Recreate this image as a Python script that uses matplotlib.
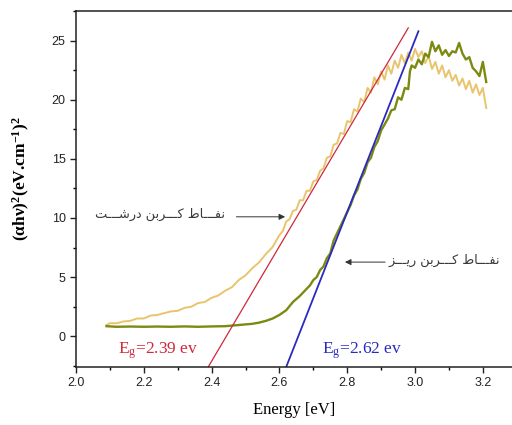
import numpy as np
import matplotlib
matplotlib.use("Agg")
import matplotlib.pyplot as plt
from matplotlib.ticker import MultipleLocator

# Tauc plot data, (alpha h nu)^2 vs photon energy
coarse_x = [2.09, 2.10, 2.12, 2.14, 2.16, 2.18, 2.20, 2.22, 2.24, 2.26, 2.28, 2.30, 2.32, 2.34,
            2.36, 2.38, 2.40, 2.42, 2.44, 2.46, 2.48, 2.50, 2.52, 2.54, 2.56, 2.58, 2.60, 2.61,
            2.62, 2.63, 2.64, 2.65, 2.66, 2.67, 2.68, 2.69, 2.70, 2.71, 2.72, 2.73, 2.74, 2.75,
            2.76, 2.77, 2.78, 2.79, 2.80, 2.81, 2.82, 2.83, 2.84, 2.85, 2.86, 2.87, 2.88, 2.89,
            2.90, 2.91, 2.92, 2.93, 2.94, 2.95, 2.96, 2.97, 2.98, 2.99, 3.00, 3.01, 3.02, 3.03,
            3.04, 3.05, 3.06, 3.07, 3.08, 3.09, 3.10, 3.11, 3.12, 3.13, 3.14, 3.15, 3.16, 3.17,
            3.18, 3.19, 3.20, 3.21]
coarse_y = [0.95, 1.10, 1.10, 1.25, 1.30, 1.50, 1.50, 1.75, 1.80, 1.95, 2.10, 2.15, 2.40, 2.50,
            2.80, 2.90, 3.25, 3.45, 3.85, 4.15, 4.75, 5.15, 5.75, 6.25, 6.95, 7.55, 8.55, 8.90,
            9.70, 9.90, 10.6, 10.7, 11.5, 11.5, 12.3, 12.3, 13.1, 13.2, 14.0, 14.2, 15.1, 15.2,
            16.2, 16.3, 17.2, 17.1, 18.2, 18.1, 19.2, 19.0, 20.1, 19.8, 21.0, 20.6, 21.9, 21.3,
            22.4, 21.7, 22.9, 22.2, 23.3, 22.7, 23.8, 23.1, 24.0, 23.3, 24.3, 23.6, 24.1, 23.1,
            23.7, 22.6, 23.2, 22.2, 22.9, 21.9, 22.5, 21.6, 22.1, 21.2, 21.8, 20.9, 21.6, 20.6,
            21.3, 20.4, 21.0, 19.3]

fine_x = [2.09, 2.12, 2.16, 2.20, 2.24, 2.28, 2.32, 2.36, 2.40, 2.44, 2.48, 2.52, 2.54, 2.56,
          2.58, 2.60, 2.62, 2.64, 2.66, 2.68, 2.69, 2.70, 2.71, 2.72, 2.73, 2.74, 2.75, 2.76,
          2.77, 2.78, 2.79, 2.80, 2.81, 2.82, 2.83, 2.84, 2.85, 2.86, 2.87, 2.88, 2.89, 2.90,
          2.91, 2.92, 2.93, 2.94, 2.95, 2.96, 2.97, 2.98, 2.985, 2.99, 3.00, 3.01, 3.02, 3.03,
          3.04, 3.05, 3.06, 3.07, 3.08, 3.09, 3.10, 3.11, 3.12, 3.13, 3.14, 3.15, 3.16, 3.17,
          3.18, 3.19, 3.20, 3.21]
fine_y = [0.85, 0.80, 0.82, 0.80, 0.82, 0.80, 0.83, 0.80, 0.83, 0.85, 0.95, 1.05, 1.15, 1.30,
          1.50, 1.80, 2.20, 2.90, 3.40, 4.00, 4.30, 4.75, 5.00, 5.60, 5.90, 6.60, 7.00, 8.10,
          8.70, 9.30, 9.90, 10.5, 11.1, 11.9, 12.4, 13.3, 13.8, 14.7, 15.1, 16.0, 16.5, 17.4,
          17.9, 18.4, 19.1, 19.2, 20.2, 20.0, 21.0, 20.9, 22.4, 22.9, 22.7, 23.4, 23.0, 23.9,
          23.6, 24.9, 24.1, 24.6, 23.8, 24.2, 23.7, 24.1, 24.0, 24.8, 23.9, 23.4, 23.6, 22.7,
          22.4, 22.0, 23.2, 21.5]

# linear fits: band gap read where the line meets the energy axis
eg_coarse, slope_coarse, end_coarse = 2.39, 48.6, 2.98
eg_fine, slope_fine, end_fine = 2.62, 72.8, 3.01

ymin, ymax = -2.6, 27.5

plt.rcParams['font.family'] = ['Liberation Sans', 'DejaVu Sans']
fig = plt.figure(figsize=(5.12, 4.25), dpi=100)
ax = fig.add_axes([0.1484, 0.1365, 0.8516, 0.8375])

ax.plot(coarse_x, coarse_y, color='#E9C46C', lw=1.4)
ax.plot(fine_x, fine_y, color='#7C8A12', lw=1.7)

xr = np.array([eg_coarse, end_coarse])
ax.plot(xr, slope_coarse * (xr - eg_coarse) + ymin, color='#D0283A', lw=0.9)
xb = np.array([eg_fine, end_fine])
ax.plot(xb, slope_fine * (xb - eg_fine) + ymin, color='#2A2AC0', lw=1.3)

ax.set_xlim(2.0, 3.286)
ax.set_ylim(ymin, ymax)
ax.xaxis.set_major_locator(MultipleLocator(0.2))
ax.xaxis.set_minor_locator(MultipleLocator(0.1))
ax.yaxis.set_major_locator(MultipleLocator(5))
ax.yaxis.set_minor_locator(MultipleLocator(2.5))
ax.set_yticks([0, 5, 10, 15, 20, 25])
ax.tick_params(which='major', direction='out', length=4, width=1, labelsize=9, colors='#222222')
ax.tick_params(which='minor', direction='out', length=2.5, width=1)
ax.spines['right'].set_visible(False)
for s in ['left', 'bottom', 'top']:
    ax.spines[s].set_linewidth(1.1)
    ax.spines[s].set_color('#222222')

ax.set_xlabel('Energy [eV]', family='Liberation Serif', fontsize=12, labelpad=9)
ax.set_ylabel(r'($\mathregular{\alpha}$h$\mathregular{\nu}$)$\mathregular{^2}$(eV.cm$\mathregular{^{-1}}$)$\mathregular{^2}$',
              family='Liberation Serif', fontweight='bold', fontsize=12.5)
ax.yaxis.set_label_coords(-0.10, 0.53)

ax.text(2.125, -1.2, r'E$\mathregular{_g}$=2.39 ev', color='#D0283A', family='Liberation Serif',
        fontsize=12.5, va='center')
ax.text(2.725, -1.2, r'E$\mathregular{_g}$=2.62 ev', color='#2A2AC0', family='Liberation Serif',
        fontsize=12.5, va='center')

# Persian labels, shaped glyphs in visual order
tt = '\u0640\u0640\u0640'
coarse_lbl = ('\uFE96' + tt + '\uFEB7\uFEAD\uFEA9' + ' ' + '\uFEE6\uFE91\uFEAE' + tt + '\uFEDB'
              + ' ' + '\uFEC1\uFE8E' + tt + '\uFED4\uFEE7')
fine_lbl = ('\uFEB0' + tt + '\uFEF3\uFEAD' + ' ' + '\uFEE6\uFE91\uFEAE' + tt + '\uFEDB'
            + ' ' + '\uFEC1\uFE8E' + tt + '\uFED4\uFEE7')
ax.text(2.44, 10.3, coarse_lbl, ha='right', va='center', fontsize=9.3, color='#3A3A3A',
        family='DejaVu Sans')
ax.annotate('', xy=(2.625, 10.1), xytext=(2.465, 10.1),
            arrowprops=dict(arrowstyle='-|>', color='#333333', lw=0.7, mutation_scale=9))
ax.text(2.922, 6.4, fine_lbl, ha='left', va='center', fontsize=9.3, color='#3A3A3A',
        family='DejaVu Sans')
ax.annotate('', xy=(2.785, 6.27), xytext=(2.92, 6.27),
            arrowprops=dict(arrowstyle='-|>', color='#333333', lw=0.7, mutation_scale=9))

fig.savefig('out.png', dpi=100)
